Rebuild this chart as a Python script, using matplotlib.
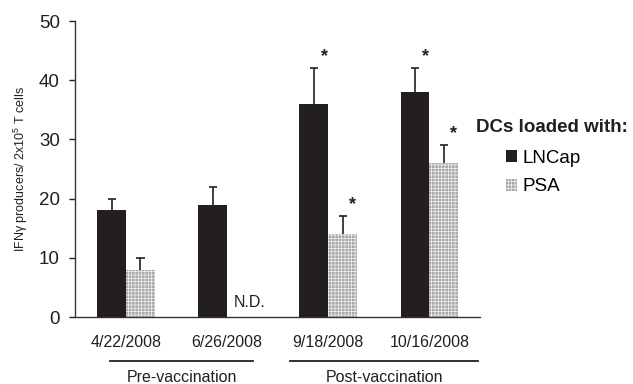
import numpy as np
import matplotlib
matplotlib.use("Agg")
import matplotlib.pyplot as plt
import matplotlib.transforms as mtrans

plt.rcParams['font.family'] = ['Liberation Sans', 'DejaVu Sans']
plt.rcParams['mathtext.fontset'] = 'custom'
plt.rcParams['mathtext.rm'] = 'Liberation Sans'
plt.rcParams['hatch.linewidth'] = 0.5

# data
dates = ['4/22/2008', '6/26/2008', '9/18/2008', '10/16/2008']
lncap = [18, 19, 36, 38]
lncap_err = [2, 3, 6, 4]
psa = [8, 0, 14, 26]          # 6/26 not done
psa_err = [2, 0, 3, 3]
psa_done = [True, False, True, True]
lncap_sig = [False, False, True, True]
psa_sig = [False, False, True, True]
groups = ['Pre-vaccination', 'Post-vaccination']
group_members = [[0, 1], [2, 3]]

ink = '#231f20'
w = 0.285
x = np.arange(len(dates))

fig = plt.figure(figsize=(6.33, 3.84), dpi=100)
ax = fig.add_axes([75/633, 1-317/384, 405/633, 296/384])

ax.bar(x - w/2, lncap, w, color=ink, linewidth=0, label='LNCap')
xp = np.array([xi for xi, d in zip(x, psa_done) if d])
vp = [v for v, d in zip(psa, psa_done) if d]
ax.bar(xp + w/2, vp, w, facecolor='#a9a9a9', edgecolor='#f2f2f2', hatch='+++++',
       linewidth=0, label='PSA')

# upper-only error bars
def upper_err(xs, vals, errs):
    for xi, v, e in zip(xs, vals, errs):
        if e <= 0:
            continue
        ax.vlines(xi, v, v + e, color=ink, linewidth=1.2)
        ax.hlines(v + e, xi - 0.04, xi + 0.04, color=ink, linewidth=1.2)

upper_err(x - w/2, lncap, lncap_err)
upper_err(x + w/2, [v if d else 0 for v, d in zip(psa, psa_done)], psa_err)

# significance stars
for i in range(len(dates)):
    if lncap_sig[i]:
        ax.text(x[i] - w/2 + 0.1, lncap[i] + lncap_err[i] + 2.0, '*',
                ha='center', va='center', fontsize=13, fontweight='bold', color=ink)
    if psa_sig[i]:
        ax.text(x[i] + w/2 + 0.1, psa[i] + psa_err[i] + 2.0, '*',
                ha='center', va='center', fontsize=13, fontweight='bold', color=ink)
    if not psa_done[i]:
        ax.text(x[i] + w/2 + 0.08, 2.4, 'N.D.', ha='center', va='center',
                fontsize=11.5, color=ink)

ax.set_xlim(-0.505, 3.5)
ax.set_ylim(0, 50)
ax.set_yticks(range(0, 51, 10))
ax.set_xticks(x)
ax.set_xticklabels(dates, fontsize=11.5)
ax.tick_params(axis='x', length=0, pad=13, colors=ink)
ax.tick_params(axis='y', length=4, width=1, pad=7, labelsize=13.5, colors=ink)
for s in ['top', 'right']:
    ax.spines[s].set_visible(False)
for s in ['left', 'bottom']:
    ax.spines[s].set_color('#333333')
    ax.spines[s].set_linewidth(1.0)

ax.set_ylabel('IFNγ producers/ 2x10$^{5}$ T cells', fontsize=9, color=ink, labelpad=6)

# group brackets under the date labels
trans = mtrans.blended_transform_factory(ax.transData, ax.transAxes)
bracket_pad = [(0.16, 0.26), (0.375, 0.485)]
for name, members, (pl, pr) in zip(groups, group_members, bracket_pad):
    x0 = x[members[0]] - pl
    x1 = x[members[-1]] + pr
    ax.plot([x0, x1], [-0.149, -0.149], color=ink, linewidth=1.3,
            transform=trans, clip_on=False)
    ax.text((x0 + x1) / 2, -0.205, name, ha='center', va='center',
            fontsize=11.5, color=ink, transform=trans)

fig.text(476/633, 1-128/384, 'DCs loaded with:', fontsize=13.5,
         fontweight='bold', va='center', ha='left', color=ink)
fig.legend(loc='upper left', bbox_to_anchor=(506/633, 1-150/384), frameon=False,
           fontsize=13.5, handlelength=0.6, handleheight=0.6, handletextpad=0.3,
           labelspacing=0.6, borderpad=0, borderaxespad=0)

fig.savefig('out.png', dpi=100)
